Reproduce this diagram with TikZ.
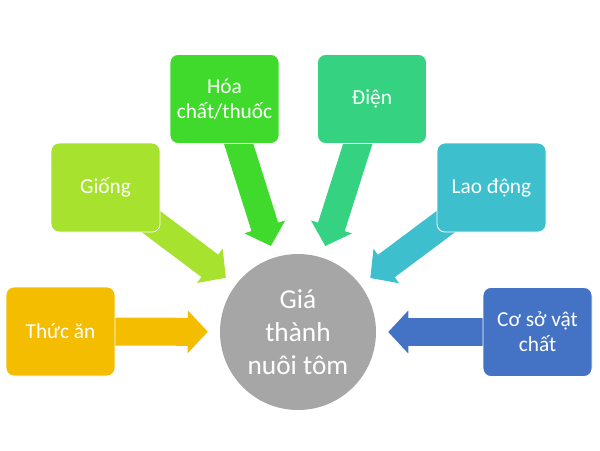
\documentclass[tikz,border=0pt]{standalone}
\usepackage{fontspec}
\setmainfont{Carlito}
\usetikzlibrary{arrows.meta,backgrounds}
\definecolor{thucc}{HTML}{F4BD00}
\definecolor{giongc}{HTML}{A6E22E}
\definecolor{hoac}{HTML}{40DA2C}
\definecolor{dienc}{HTML}{35D381}
\definecolor{laoc}{HTML}{3EBFCD}
\definecolor{cosoc}{HTML}{4472C4}
\definecolor{giac}{HTML}{A6A6A6}
\begin{document}
\begin{tikzpicture}[x=0.75pt,y=-0.75pt,
        box/.style={rectangle,rounded corners=6pt,draw=white,line width=0.6pt,
            minimum width=81.75pt,minimum height=66.75pt,text=white,align=center,
            font=\fontsize{16}{19}\selectfont},
        bigarrow/.style={line width=21pt,-{Triangle[length=15pt,width=32pt,line width=1pt]},shorten >=9pt}]
                \useasboundingbox (0,0) rectangle (600,450);
                \node[box,fill=thucc] (thuc) at (60.5,331.5) {Thức ăn};
                \node[box,fill=giongc] (giong) at (105.5,187.5) {Giống};
                \node[box,fill=hoac] (hoa) at (224.5,99) {Hóa\\chất/thuốc};
                \node[box,fill=dienc] (dien) at (372,99) {Điện};
                \node[box,fill=laoc] (lao) at (491.5,187.5) {Lao động};
                \node[box,fill=cosoc] (coso) at (537.5,332) {Cơ sở vật\\chất};
                \node[circle,fill=giac,minimum size=117pt,text=white,align=center,
                    font=\fontsize{20.5}{24.75}\selectfont] (gia) at (298,332) {Giá\\thành\\nuôi tôm};
                \begin{scope}[on background layer]
                    \draw[bigarrow,thucc] (thuc.center)--(gia);
                    \draw[bigarrow,giongc] (giong.center)--(gia);
                    \draw[bigarrow,hoac] (hoa.center)--(gia);
                    \draw[bigarrow,dienc] (dien.center)--(gia);
                    \draw[bigarrow,laoc] (lao.center)--(gia);
                    \draw[bigarrow,cosoc] (coso.center)--(gia);
                \end{scope}
            \end{tikzpicture}
\end{document}
